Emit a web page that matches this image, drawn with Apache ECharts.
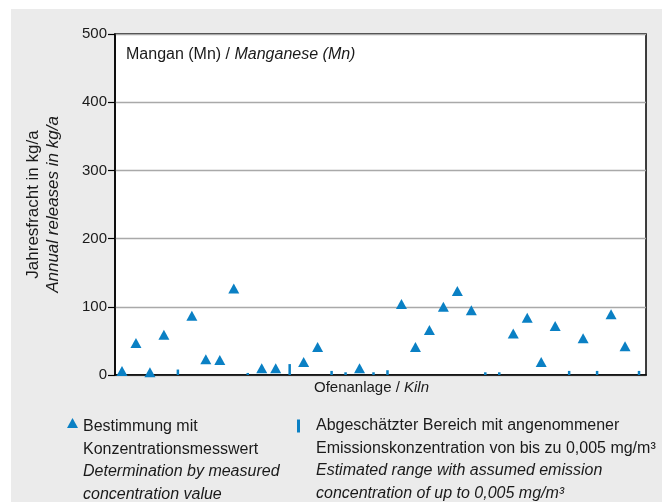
<!DOCTYPE html>
<html>
<head>
<meta charset="utf-8">
<script src="https://cdn.jsdelivr.net/npm/echarts@6/dist/echarts.min.js"></script>
<style>
  html, body { margin: 0; padding: 0; background: #ffffff; }
  #chart { position: absolute; left: 11px; top: 9px; width: 651px; height: 493px; }
</style>
</head>
<body>
<div id="chart"></div>
<script>
// Kilns along the x axis (one slot per plant, no labels shown)
const kilns = [
  'K01','K02','K03','K04','K05','K06','K07','K08','K09','K10',
  'K11','K12','K13','K14','K15','K16','K17','K18','K19','K20',
  'K21','K22','K23','K24','K25','K26','K27','K28','K29','K30',
  'K31','K32','K33','K34','K35','K36','K37','K38'
];

// Annual releases (kg/a) determined from a measured concentration
const measured = [
  6, 47, 4, 59, null, 87, 23, 22, 127, null,
  10, 10, null, 19, 41, null, null, 10, null, null,
  104, 41, 66, 100, 123, 95, null, null, 61, 84,
  19, 72, null, 54, null, 89, 42, null
];

// Estimated upper bound (kg/a) at an assumed concentration of up to 0.005 mg/m3
const estimated = [
  null, null, null, null, 8, null, null, null, null, 3,
  null, null, 16, null, null, 6, 4, null, 4, 7,
  null, null, null, null, null, null, 4, 4, null, null,
  null, null, 6, null, 6, null, null, 6
];

// Value axis ticks
const yTicks = [0, 100, 200, 300, 400, 500];

const FONT = "'Liberation Sans', Arial, sans-serif";
const BLUE = '#0a80c4';
const TEXT = '#1a1a1a';

const nameMeasured = 'Bestimmung mit Konzentrationsmesswert';
const nameEstimated = 'Abgeschätzter Bereich';

const legendRich = {
  a: { fontFamily: FONT, fontSize: 16, lineHeight: 22.5, color: TEXT },
  b: { fontFamily: FONT, fontSize: 16, lineHeight: 22.5, color: TEXT, fontStyle: 'italic' }
};

const chart = echarts.init(document.getElementById('chart'), null, { renderer: 'canvas' });

chart.setOption({
  backgroundColor: '#ebebeb',
  animation: false,
  textStyle: { fontFamily: FONT },
  title: {
    text: 'Mangan (Mn) / {i|Manganese (Mn)}',
    left: 115,
    top: 38,
    padding: 0,
    textStyle: {
      fontFamily: FONT, fontSize: 16, fontWeight: 'normal', color: TEXT,
      rich: { i: { fontFamily: FONT, fontSize: 16, fontStyle: 'italic', color: TEXT } }
    }
  },
  grid: {
    left: 104, top: 25, right: 16, bottom: 127,
    show: true,
    backgroundColor: '#ffffff',
    borderColor: '#000000',
    borderWidth: 1.5
  },
  legend: [
    {
      data: [nameMeasured],
      left: 56, top: 409,
      padding: 0,
      selectedMode: false,
      itemWidth: 11, itemHeight: 10,
      icon: 'triangle',
      itemStyle: { opacity: 1 },
      formatter: () =>
        '{a|Bestimmung mit}\n{a|Konzentrationsmesswert}\n{b|Determination by measured}\n{b|concentration value}',
      textStyle: { padding: [75.5, 0, 0, 0], rich: legendRich }
    },
    {
      data: [nameEstimated],
      left: 286, top: 409,
      padding: 0,
      selectedMode: false,
      itemWidth: 3, itemHeight: 13,
      icon: 'rect',
      formatter: () =>
        '{a|Abgeschätzter Bereich mit angenommener}\n{a|Emissionskonzentration von bis zu 0,005 mg/m³}\n{b|Estimated range with assumed emission}\n{b|concentration of up to 0,005 mg/m³}',
      textStyle: { padding: [67.5, 0, 0, 11], rich: legendRich }
    }
  ],
  xAxis: {
    type: 'category',
    data: kilns,
    boundaryGap: true,
    axisLine: { lineStyle: { color: '#000000', width: 1.5 } },
    axisTick: { show: false },
    axisLabel: { show: false },
    splitLine: { show: false },
    name: 'Ofenanlage / {i|Kiln}',
    nameLocation: 'middle',
    nameGap: 5,
    nameTextStyle: {
      fontFamily: FONT, fontSize: 15, color: TEXT,
      padding: [0, 18, 0, 0],
      rich: { i: { fontFamily: FONT, fontSize: 15, fontStyle: 'italic', color: TEXT } }
    }
  },
  yAxis: {
    type: 'value',
    min: yTicks[0],
    max: yTicks[yTicks.length - 1],
    interval: yTicks[1] - yTicks[0],
    axisLine: { show: true, lineStyle: { color: '#000000', width: 1.5 } },
    axisTick: { show: true, inside: false, length: 7, lineStyle: { color: '#000000', width: 1.2 } },
    axisLabel: { margin: 8, fontFamily: FONT, fontSize: 15, color: TEXT },
    splitLine: { show: true, lineStyle: { color: '#a9a9a9', width: 1.3 } },
    name: '{a|Jahresfracht in kg/a}\n{b|Annual releases in kg/a}',
    nameLocation: 'middle',
    nameRotate: 90,
    nameGap: 52,
    nameTextStyle: {
      rich: {
        a: { fontFamily: FONT, fontSize: 17, lineHeight: 20, color: TEXT },
        b: { fontFamily: FONT, fontSize: 17, lineHeight: 20, color: TEXT, fontStyle: 'italic' }
      }
    }
  },
  series: [
    {
      name: nameEstimated,
      type: 'bar',
      data: estimated,
      barWidth: 2.5,
      itemStyle: { color: BLUE },
      z: 2
    },
    {
      name: nameMeasured,
      type: 'scatter',
      data: measured,
      symbol: 'triangle',
      symbolSize: [11, 10],
      itemStyle: { color: BLUE, opacity: 1 },
      z: 3
    }
  ]
});
</script>
</body>
</html>
